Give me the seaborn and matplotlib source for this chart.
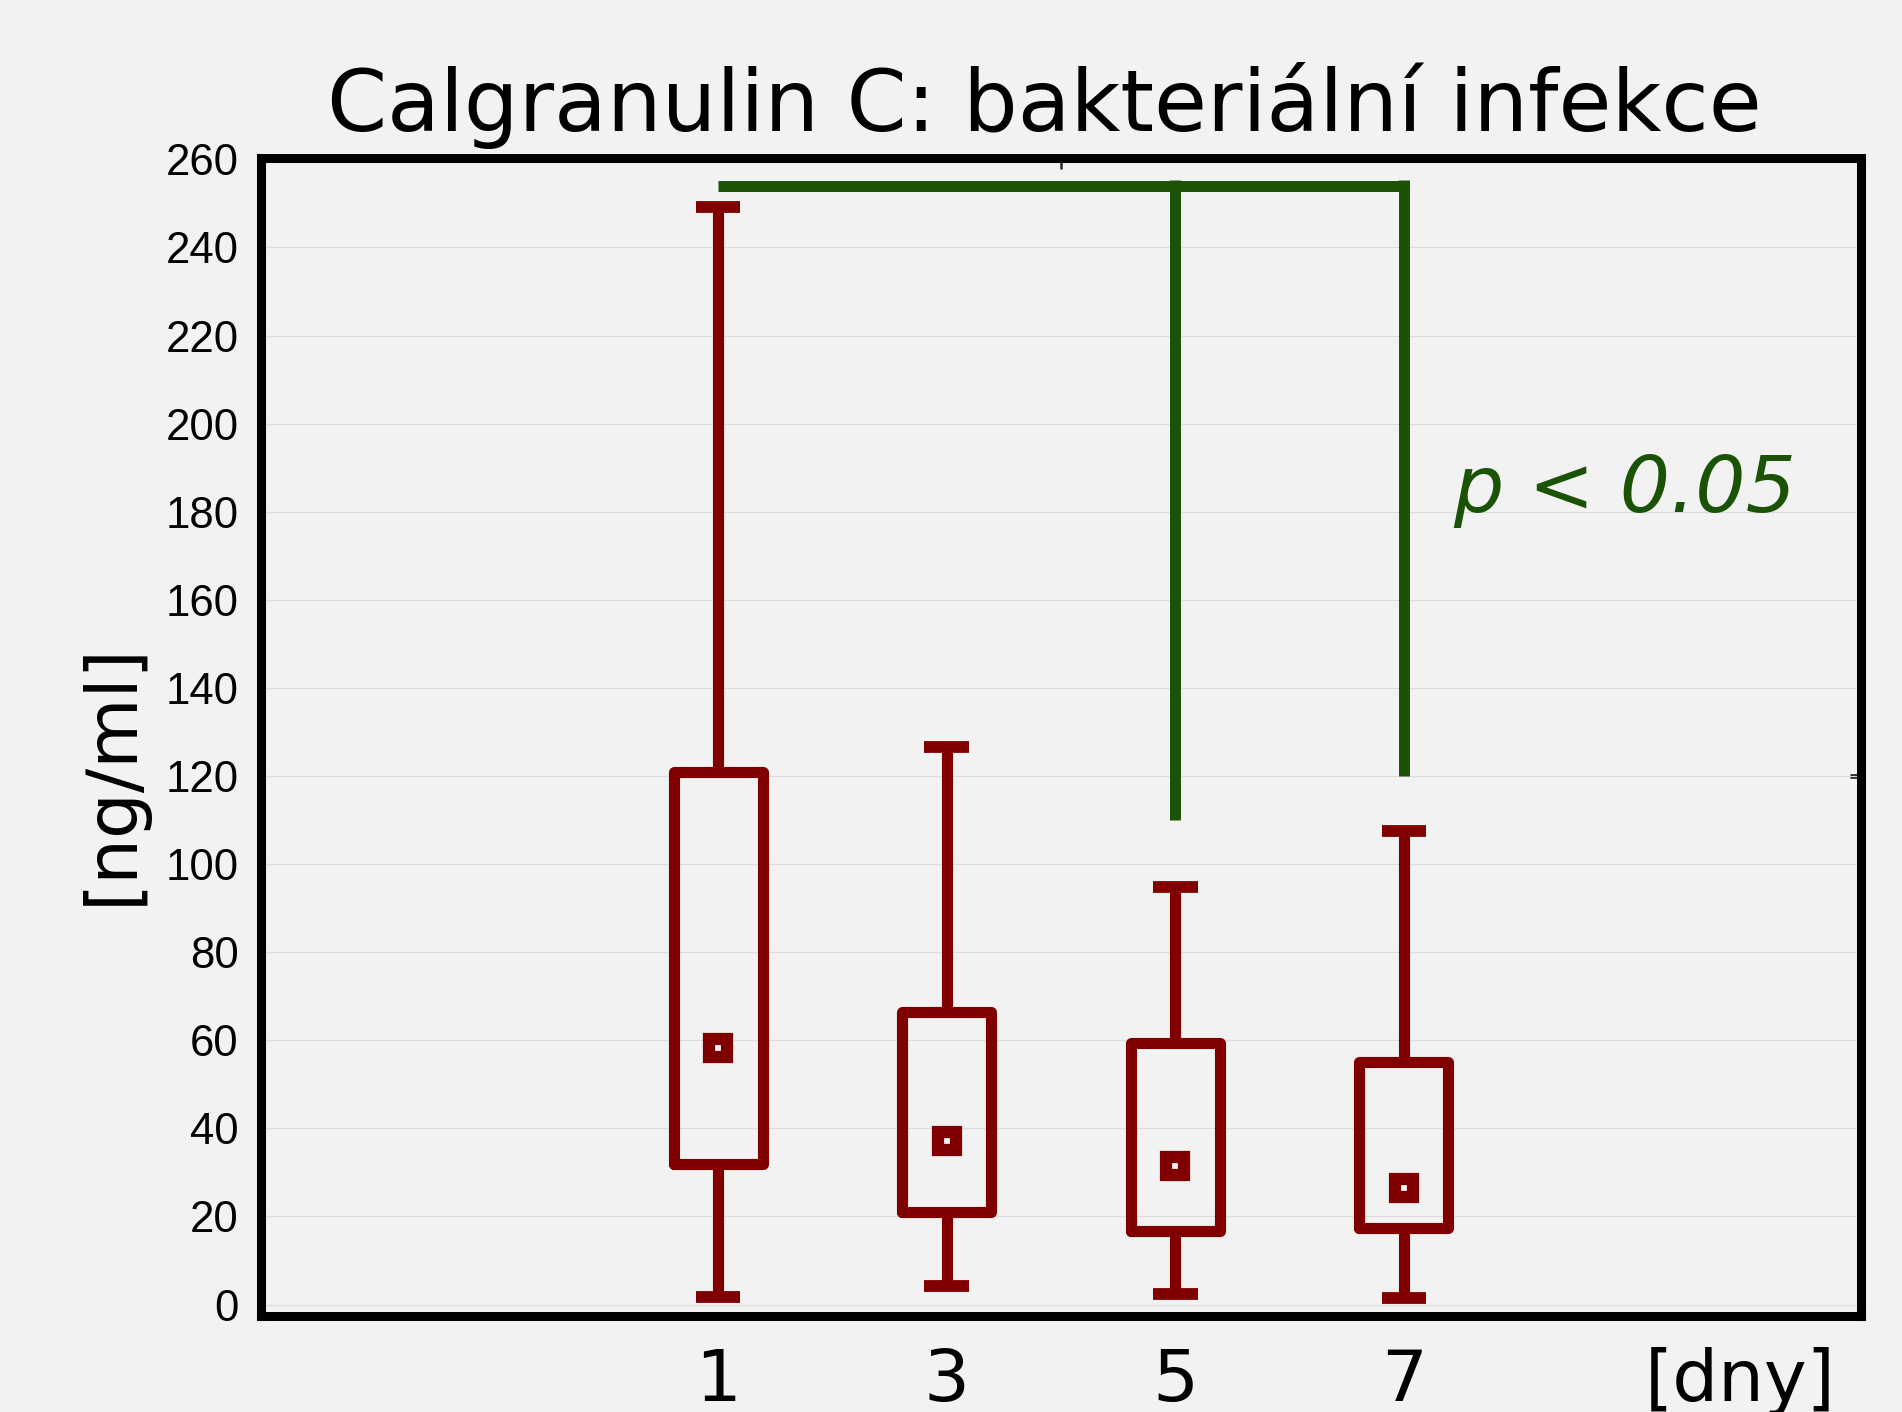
import pandas as pd
import matplotlib.pyplot as plt
import seaborn as sns

# values (ng/ml)
days = ["1", "3", "5", "7"]
mins = [1.8, 4.2, 2.3, 1.5]
q1 = [32.0, 20.9, 16.6, 17.4]
medians = [58.3, 37.1, 31.4, 26.5]
q3 = [121.0, 66.4, 59.4, 55.0]
maxs = [249.2, 126.5, 94.8, 107.5]

y_ticks = list(range(0, 261, 20))
x_unit_label = "[dny]"

# significance bracket (day 1 vs days 5 and 7)
bracket_y = 254
bracket_drop = {"5": 110, "7": 120}
p_text = "p < 0.05"

red = "#800000"
green = "#1b5306"
bg = "#f2f2f2"

# five values per day -> quartiles land exactly on q1/median/q3, whis=(0,100) gives min/max
rows = []
for d, a, b, c, e, f in zip(days, mins, q1, medians, q3, maxs):
    for v in (a, b, c, e, f):
        rows.append({"day": d, "value": v})
df = pd.DataFrame(rows)

sns.set_theme(style="white")
plt.rcParams["font.family"] = ["DejaVu Sans"]
plt.rcParams["text.color"] = "black"

fig = plt.figure(figsize=(19.02, 14.12), dpi=100, facecolor=bg)
ax = fig.add_axes([261 / 1902, 1 - 1316 / 1412, (1861 - 261) / 1902, (1316 - 158) / 1412])
ax.set_facecolor(bg)

sns.boxplot(data=df, x="day", y="value", order=days, whis=(0, 100), width=0.39,
            fill=False, color=red, linewidth=8, showfliers=False,
            medianprops={"visible": False},
            boxprops={"solid_joinstyle": "round"},
            capprops={"solid_capstyle": "butt", "linewidth": 8.5},
            whiskerprops={"solid_capstyle": "butt"},
            ax=ax)

sns.pointplot(x=days, y=medians, order=days, linestyle="none", markers="s",
              color=red, markersize=12.8, markeredgewidth=8.8,
              markerfacecolor=bg, errorbar=None, ax=ax)

# bracket
pos = {d: i for i, d in enumerate(days)}
ax.hlines(bracket_y, pos["1"], pos["7"] + 0.024, color=green, lw=7.9, zorder=5)
for d, low in bracket_drop.items():
    ax.vlines(pos[d], low, bracket_y + 1.2, color=green, lw=7.9, zorder=5)
ax.text(3.215, 180, p_text, color=green, fontsize=57, style="italic",
        ha="left", va="baseline", family="DejaVu Sans")

ax.set_xlim(-2, 5)
ax.set_ylim(-2.6, 260.3)
ax.set_xlabel("")
ax.set_ylabel("")

ax.set_yticks(y_ticks)
ax.set_yticklabels([str(t) for t in y_ticks], fontfamily="Liberation Sans", fontsize=31.5)
ax.tick_params(axis="y", direction="in", length=7, width=2.4, pad=16,
               colors="black", labelcolor="black")

ax.set_xticks(list(range(len(days))) + [4.47])
ax.set_xticklabels(days + [x_unit_label], fontfamily="DejaVu Sans", fontsize=52)
ax.tick_params(axis="x", length=0, pad=22, labelcolor="black")

ax.yaxis.grid(True, color="#dcdcdc", lw=0.8)
ax.xaxis.grid(False)
ax.set_axisbelow(True)

for side in ["left", "top", "bottom", "right"]:
    ax.spines[side].set_linewidth(6.5)
    ax.spines[side].set_color("black")

# stray tick marks on top and right frame
sec_x = ax.secondary_xaxis("top")
sec_x.set_xticks([1.5])
sec_x.tick_params(direction="in", length=8, width=1.8, labeltop=False)
sec_x.spines["top"].set_visible(False)
sec_y = ax.secondary_yaxis("right")
sec_y.set_yticks([120])
sec_y.tick_params(direction="in", length=8, width=3.4, labelright=False)
sec_y.spines["right"].set_visible(False)

fig.text(1044 / 1902, 1 - 131 / 1412, "Calgranulin C: bakteriální infekce",
         ha="center", va="baseline", fontsize=62, family="DejaVu Sans", color="black")
fig.text(112 / 1902, 1 - 774 / 1412, "[ng/ml]", rotation=90,
         ha="center", va="center", fontsize=52, family="DejaVu Sans", color="black")

fig.savefig("out.png", dpi=100, facecolor=bg)
